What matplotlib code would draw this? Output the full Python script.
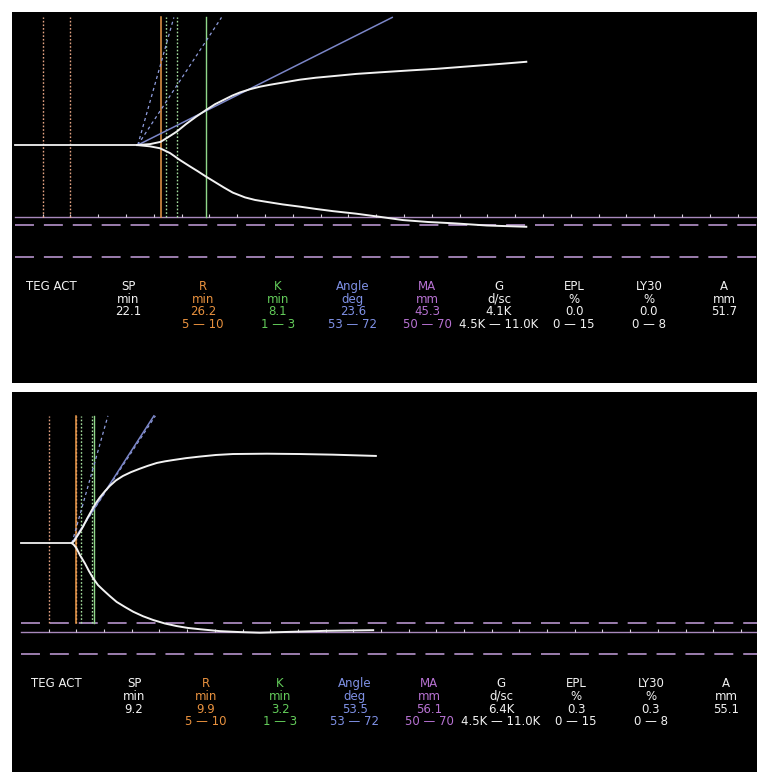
import matplotlib
matplotlib.use('Agg')
import matplotlib.pyplot as plt
import numpy as np

# ============================== data ==============================
# top tracing (TEG ACT, first sample)
sp1, r1, k1, angle1, ma1 = 22.1, 26.2, 8.1, 23.6, 45.3
t_up1 = [22.0, 24.3, 26.2, 27.5, 29.1, 30.8, 32.6, 34.4, 36.0, 37.6, 39.1, 40.5,
         42.3, 44.1, 45.9, 48.6, 51.3, 54.1, 57.2, 61.4, 65.7, 71.1, 75.9, 81.9,
         87.8, 92.0]
up1 = [0, 0.3, 1.0, 2.4, 4.2, 6.6, 8.9, 11.0, 12.8, 14.2, 15.5, 16.5,
       17.5, 18.3, 18.9, 19.7, 20.5, 21.1, 21.6, 22.3, 22.8, 23.4, 23.9, 24.7,
       25.5, 26.1]
t_lo1 = [22.0, 24.3, 26.1, 27.9, 29.7, 31.5, 32.9, 34.4, 36.0, 37.6, 39.2, 41.4,
         43.2, 45.3, 48.2, 51.3, 54.1, 57.2, 61.4, 65.7, 69.8, 74.3, 78.8, 84.9,
         92.0]
lo1 = [0, -0.4, -1.0, -2.5, -4.7, -6.7, -8.2, -9.9, -11.6, -13.3, -14.9, -16.4,
       -17.2, -17.8, -18.6, -19.3, -20.0, -20.7, -21.5, -22.5, -23.5, -24.1, -24.5, -25.2,
       -25.6]
vals1 = ['22.1', '26.2', '8.1', '23.6', '45.3', '4.1K', '0.0', '0.0', '51.7']

# bottom tracing (second sample)
sp2, r2, k2, angle2, ma2 = 9.2, 9.9, 3.2, 53.5, 56.1
t_up2 = [9.2, 9.57, 10.05, 10.65, 11.25, 11.91, 12.87, 13.54, 14.26, 15.16, 16.06,
         17.15, 18.41, 19.86, 21.48, 22.92, 24.55, 26.0, 27.44, 29.78, 32.31, 35.2,
         38.27, 44.4, 50.36, 56.32, 64.08]
up2 = [0, 0.6, 1.9, 3.5, 5.3, 7.6, 10.6, 12.6, 14.4, 16.3, 18.0,
       19.7, 21.1, 22.3, 23.4, 24.3, 25.2, 25.7, 26.1, 26.7, 27.2, 27.7,
       28.0, 28.1, 28.0, 27.8, 27.4]
t_lo2 = [9.2, 9.57, 10.05, 10.65, 11.55, 12.27, 13.05, 13.9, 14.86, 16.06, 17.27,
         18.77, 20.27, 22.02, 23.88, 25.99, 28.1, 30.14, 32.31, 35.92, 39.53, 43.14,
         49.1, 55.18, 63.6]
lo2 = [0, -0.6, -1.7, -3.8, -6.4, -8.8, -11.1, -13.2, -14.8, -16.7, -18.5,
       -20.1, -21.6, -23.0, -24.2, -25.3, -26.1, -26.7, -27.1, -27.7, -28.0, -28.2,
       -27.9, -27.6, -27.4]
vals2 = ['9.2', '9.9', '3.2', '53.5', '56.1', '6.4K', '0.3', '0.3', '55.1']

# reference ranges
r_range = (5, 10)
k_range = (1, 3)
angle_range = (53, 72)
ma_range = (50, 70)

# table text
params = ['SP', 'R', 'K', 'Angle', 'MA', 'G', 'EPL', 'LY30', 'A']
units = ['min', 'min', 'min', 'deg', 'mm', 'd/sc', '%', '%', 'mm']
ranges = ['', '5 \u2014 10', '1 \u2014 3', '53 \u2014 72', '50 \u2014 70',
          '4.5K \u2014 11.0K', '0 \u2014 15', '0 \u2014 8', '']

# ============================== style ==============================
W, H = 757, 772
WHITE = '#f2f2f2'
ORANGE_T, GREEN_T, BLUE_T, PURPLE_T = '#e8913e', '#63cc5a', '#7f91e6', '#b772d2'
txt_colors = [WHITE, ORANGE_T, GREEN_T, BLUE_T, PURPLE_T, WHITE, WHITE, WHITE, WHITE]
ORANGE_L, ORANGE_D = '#ec9a4a', '#e6a484'
GREEN_L, GREEN_D = '#90d88a', '#a6e0a0'
BLUE_L, BLUE_D = '#7b86c8', '#8e9cdc'
PURPLE_L = '#a888bc'
TOP_LEN = 40.0  # length of guide lines, mm


def draw_panel(ax, sp, r, k, angle, ma, t_up, up, t_lo, lo, xlim, ylim):
    ax.set_facecolor('black')
    ax.set_xlim(*xlim)
    ax.set_ylim(*ylim)
    ax.set_xticks([])
    ax.set_yticks([])
    for s in ax.spines.values():
        s.set_visible(False)

    ma_y = -ma / 2
    low_stop = max(ma_y, -ma_range[0] / 2)

    # MA line with 5 min ticks, range dashed lines
    ax.plot([0, xlim[1]], [ma_y, ma_y], color=PURPLE_L, lw=1.0)
    ticks = np.arange(5, xlim[1], 5)
    ax.vlines(ticks, ma_y, ma_y + 0.9, color='#d8d0dc', lw=0.8)
    for m in ma_range:
        ax.plot([0, xlim[1]], [-m / 2, -m / 2], color=PURPLE_L, lw=1.3,
                dashes=(10.5, 5.5))

    # R / K markers
    for t in r_range:
        ax.plot([t, t], [low_stop, TOP_LEN], color=ORANGE_D, lw=1.0, dashes=(1.2, 1.4))
    for t in k_range:
        ax.plot([r + t, r + t], [low_stop, TOP_LEN], color=GREEN_D, lw=1.0, dashes=(1.2, 1.4))
    ax.plot([r, r], [low_stop, TOP_LEN], color=ORANGE_L, lw=1.1)
    ax.plot([r + k, r + k], [low_stop, TOP_LEN], color=GREEN_L, lw=1.0)

    # angle lines
    for a in angle_range:
        s = 2 * np.tan(np.radians(a))
        ax.plot([sp, sp + TOP_LEN / s], [0, TOP_LEN], color=BLUE_D, lw=0.9,
                dashes=(2.5, 2.5))
    s = 2 * np.tan(np.radians(angle))
    ax.plot([sp, sp + TOP_LEN / s], [0, TOP_LEN], color=BLUE_L, lw=1.1)

    # tracing
    ax.plot([0, sp], [0, 0], color=WHITE, lw=1.3)
    ax.plot(t_up, up, color=WHITE, lw=1.4, solid_joinstyle='round')
    ax.plot(t_lo, lo, color=WHITE, lw=1.4, solid_joinstyle='round')


def draw_table(fig, vals, x_cols, x_label, y_rows):
    fx = lambda x: x / W
    fy = lambda y: 1 - y / H
    kw = dict(fontsize=8.5, family='DejaVu Sans', va='center', ha='center')
    fig.text(fx(x_label), fy(y_rows[0]), 'TEG ACT', color=WHITE,
             **{**kw, 'ha': 'left'})
    for i in range(len(params)):
        c = txt_colors[i]
        fig.text(fx(x_cols[i]), fy(y_rows[0]), params[i], color=c, **kw)
        fig.text(fx(x_cols[i]), fy(y_rows[1]), units[i], color=c, **kw)
        fig.text(fx(x_cols[i]), fy(y_rows[2]), vals[i], color=c, **kw)
        if ranges[i]:
            fig.text(fx(x_cols[i]), fy(y_rows[3]), ranges[i], color=c, **kw)


def main():
    fig = plt.figure(figsize=(W / 100, H / 100), dpi=100, facecolor='white')

    ax1 = fig.add_axes([12 / W, 1 - 382.5 / H, 745 / W, 370.5 / H])
    draw_panel(ax1, sp1, r1, k1, angle1, ma1, t_up1, up1, t_lo1, lo1,
               (-0.52, 133.5), (-74.4, 41.7))
    ax2 = fig.add_axes([12 / W, 0, 745 / W, 380.3 / H])
    draw_panel(ax2, sp2, r2, k2, angle2, ma2, t_up2, up2, t_lo2, lo2,
               (-1.62, 132.9), (-72.0, 47.6))

    cols1 = [128, 203, 278, 353, 427, 499, 574, 649, 724]
    cols2 = [134, 206, 280, 355, 429, 501, 576, 651, 726]
    draw_table(fig, vals1, cols1, 26, [286.7, 299.2, 311.8, 324.5])
    draw_table(fig, vals2, cols2, 31, [683.3, 696.3, 709.3, 721.8])

    fig.savefig('out.png', dpi=100, facecolor='white')


if __name__ == '__main__':
    main()
